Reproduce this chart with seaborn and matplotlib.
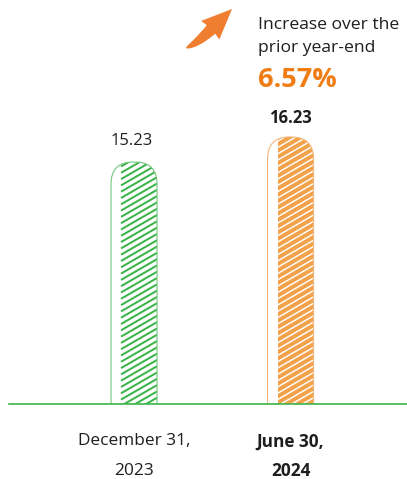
import numpy as np
import pandas as pd
import matplotlib
matplotlib.use("Agg")
import matplotlib.pyplot as plt
import seaborn as sns
from matplotlib.patches import FancyBboxPatch, Rectangle, Polygon
from matplotlib.collections import LineCollection
from matplotlib.transforms import IdentityTransform

# ---- data ----
categories = ["December 31,\n2023", "June 30,\n2024"]
values = [15.23, 16.23]
value_labels = ["15.23", "16.23"]
increase_lines = ["Increase over the", "prior year-end"]
increase_value = "6.57%"

# ---- colours ----
GREEN = "#3cb44b"
GREEN_LIGHT = "#74c97d"
ORANGE = "#f2a24a"
ORANGE_LIGHT = "#f4b57a"
ARROW = "#ef7e31"
ORANGE_TEXT = "#f07c14"
TEXT = "#1e1e1e"

sns.set_theme(style="white")
plt.rcParams["font.family"] = ["Open Sans", "DejaVu Sans"]

W, H = 407, 479
fig = plt.figure(figsize=(W / 100, H / 100), dpi=100)
fig.patch.set_facecolor("white")
ax = fig.add_axes([9 / W, 75 / H, 398 / W, 329 / H])

df = pd.DataFrame({"date": categories, "value": values})
sns.barplot(data=df, x="date", y="value", hue="date",
            palette=[GREEN, ORANGE], width=0.294, legend=False, ax=ax)
ax.set_xlim(-0.799, 1.744)
ax.set_ylim(5.55, 18.71)
ax.set_xlabel("")
ax.set_ylabel("")
ax.set_yticks([])
for s in ["top", "left", "right"]:
    ax.spines[s].set_visible(False)
ax.spines["bottom"].set_color(GREEN)
ax.spines["bottom"].set_linewidth(1.2)
ax.spines["bottom"].set_zorder(5)

# tick labels
ax.tick_params(axis="x", length=0, pad=21)
for i, lab in enumerate(ax.get_xticklabels()):
    lab.set_fontsize(12.4)
    lab.set_color(TEXT)
    if i == 1:
        lab.set_fontweight("bold")
        lab.set_linespacing(1.8)
    else:
        lab.set_linespacing(2.15)

# ---- rounded, half-hatched bars ----
sx = ax.transData.transform((1, 0))[0] - ax.transData.transform((0, 0))[0]
sy = ax.transData.transform((0, 1))[1] - ax.transData.transform((0, 0))[1]
r_px = 22
aspect = sx / sy
styles = [
    dict(edge=GREEN_LIGHT, fill="white", line=GREEN, lw=1.45, weight="normal", off=12),
    dict(edge=ORANGE_LIGHT, fill=ORANGE, line="white", lw=1.05, weight="bold", off=10),
]
bars = sorted(ax.patches, key=lambda p: p.get_x())
for bar, st, lbl in zip(bars, styles, value_labels):
    x0, w, h, y0 = bar.get_x(), bar.get_width(), bar.get_height(), bar.get_y()
    bar.set_visible(False)
    outer = FancyBboxPatch((x0, y0), w, h,
                           boxstyle=f"round,pad=0,rounding_size={r_px / sx}",
                           mutation_aspect=aspect, facecolor="none",
                           edgecolor=st["edge"], lw=0.8, zorder=3)
    ax.add_patch(outer)
    xh = x0 + 10 / sx
    inner = Rectangle((xh, y0), x0 + w - xh, h, facecolor=st["fill"],
                      edgecolor="none", zorder=2)
    ax.add_patch(inner)
    inner.set_clip_path(outer)
    inner.set_clip_box(ax.bbox)

    px0, py0 = ax.transData.transform((xh, ax.get_ylim()[0]))
    px1, py1 = ax.transData.transform((x0 + w, h))
    slope = np.tan(np.radians(30))
    spacing = 6.3
    segs = []
    c = py0 - slope * (px1 - px0) - spacing
    while c < py1 + spacing:
        segs.append([(px0, c), (px1, c + slope * (px1 - px0))])
        c += spacing
    lc = LineCollection(segs, colors=st["line"], linewidths=st["lw"],
                        transform=IdentityTransform(), zorder=2.5)
    ax.add_collection(lc)
    lc.set_clip_path(outer)
    lc.set_clip_box(ax.bbox)

    ax.annotate(lbl, xy=(x0 + w / 2, h), xytext=(-2 if st["weight"] == "normal" else 0, st["off"]),
                textcoords="offset points", ha="center", va="baseline",
                fontsize=12, fontweight=st["weight"], color=TEXT)

# ---- annotation text ----
fig.text(258 / W, 1 - 29 / H, increase_lines[0], fontsize=12.6, color=TEXT,
         ha="left", va="baseline")
fig.text(258 / W, 1 - 52 / H, increase_lines[1], fontsize=12.6, color=TEXT,
         ha="left", va="baseline")
fig.text(258 / W, 1 - 87 / H, increase_value, fontsize=19.5, color=ORANGE_TEXT,
         fontweight="bold", ha="left", va="baseline")

# ---- curved arrow (decoration) ----
P0 = np.array([186.0, 48.0])
C = np.array([196.4, 44.0])
Hc = np.array([211.0, 29.5])
tip = np.array([232.0, 9.0])
ts = np.linspace(0, 1, 30)
pts = ((1 - ts)[:, None] ** 2) * P0 + (2 * (1 - ts) * ts)[:, None] * C + (ts[:, None] ** 2) * Hc
der = 2 * (1 - ts)[:, None] * (C - P0) + 2 * ts[:, None] * (Hc - C)
der /= np.linalg.norm(der, axis=1)[:, None]
nrm = np.stack([-der[:, 1], der[:, 0]], axis=1)
hw = 6.0 * ts ** 0.6
left = pts + nrm * hw[:, None]
right = pts - nrm * hw[:, None]
hd = (tip - Hc) / np.linalg.norm(tip - Hc)
hn = np.array([-hd[1], hd[0]])
c1 = Hc + hn * 13 - hd * 1
c2 = Hc - hn * 13 - hd * 1
poly = np.vstack([left, c1[None], tip[None], c2[None], right[::-1]])
poly_fig = np.column_stack([poly[:, 0] / W, 1 - poly[:, 1] / H])
fig.add_artist(Polygon(poly_fig, closed=True, facecolor=ARROW, edgecolor="none",
                       transform=fig.transFigure))

fig.savefig("out.png", dpi=100, facecolor="white")
